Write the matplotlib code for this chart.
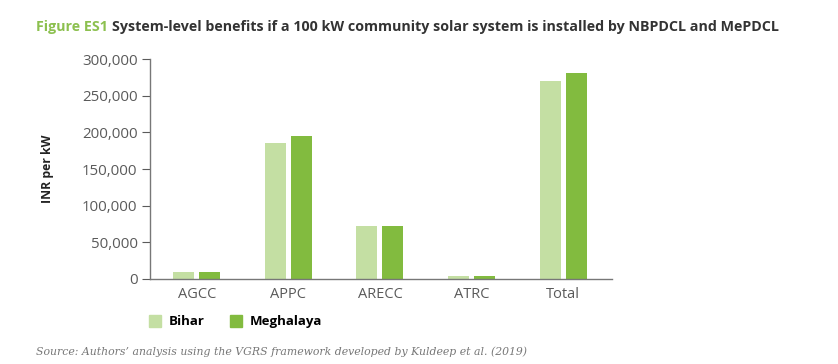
import matplotlib
matplotlib.use("Agg")
import matplotlib.pyplot as plt
import numpy as np
from matplotlib.patches import Patch
from matplotlib.ticker import FuncFormatter

categories = ["AGCC", "APPC", "ARECC", "ATRC", "Total"]
bihar = [9200, 185000, 72400, 3700, 270700]
meghalaya = [9000, 195000, 72400, 4000, 280800]
series_names = ["Bihar", "Meghalaya"]

light = "#c4dfa3"
dark = "#82bb3f"
gray = "#5a5a5a"

plt.rcParams["font.family"] = ["Open Sans", "DejaVu Sans"]

fig = plt.figure(figsize=(8.38, 3.64), dpi=100)
ax = fig.add_axes([0.179, 0.234, 0.551, 0.603])

x = np.arange(len(categories))
w = 0.23
ax.bar(x - 0.142, bihar, w, color=light)
ax.bar(x + 0.142, meghalaya, w, color=dark)

ax.set_xlim(-0.51, 4.53)
ax.set_ylim(0, 300000)
ax.set_yticks(np.arange(0, 300001, 50000))
ax.yaxis.set_major_formatter(FuncFormatter(lambda v, p: f"{int(v):,}"))
ax.set_xticks(x)
ax.set_xticklabels(categories)
ax.tick_params(axis="x", length=0, pad=6, labelsize=10.5, labelcolor=gray)
ax.tick_params(axis="y", length=6, width=0.8, color=gray, labelsize=10.8, labelcolor=gray, pad=3)
for s in ["top", "right"]:
    ax.spines[s].set_visible(False)
for s in ["left", "bottom"]:
    ax.spines[s].set_color("#777777")
    ax.spines[s].set_linewidth(1.0)

ax.set_ylabel("INR per kW", fontsize=8.8, fontweight="bold", color="#222222", labelpad=20)

handles = [Patch(color=light), Patch(color=dark)]
fig.legend(handles, series_names, loc="center left", bbox_to_anchor=(0.164, 0.116),
           ncol=2, frameon=False, handlelength=0.9, handleheight=1.0,
           columnspacing=1.9, handletextpad=0.6,
           prop={"weight": "bold", "size": 9.5})

# title in two colours
t1 = fig.text(0.043, 0.925, "Figure ES1", fontsize=10.25, fontweight="bold", color="#8cc04f",
              va="center")
fig.canvas.draw()
bb = t1.get_window_extent()
x2 = (bb.x1 + 4) / fig.bbox.width
fig.text(x2, 0.925, "System-level benefits if a 100 kW community solar system is installed by NBPDCL and MePDCL",
         fontsize=10.25, fontweight="bold", color="#333333", va="center")

fig.text(0.043, 0.035, "Source: Authors\u2019 analysis using the VGRS framework developed by Kuldeep et al. (2019)",
         fontsize=7.8, style="italic", color="#777777", family=["DejaVu Serif"], va="center")

fig.savefig("out.png", dpi=100)
